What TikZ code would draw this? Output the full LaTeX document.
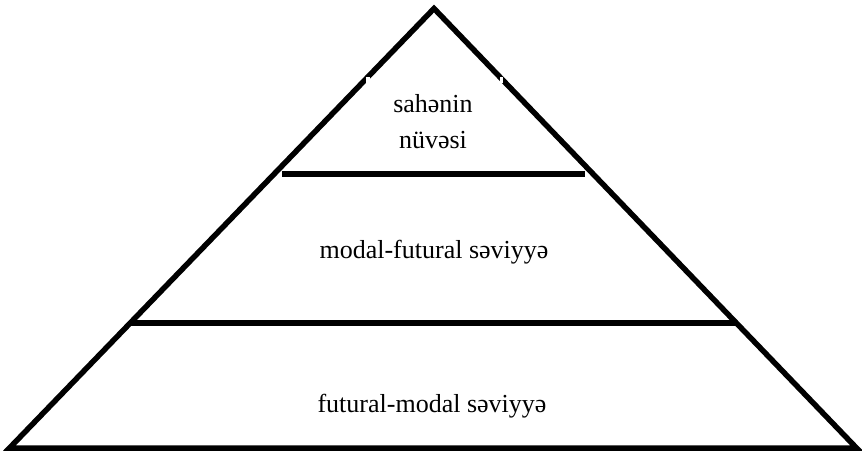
\documentclass[tikz,border=0pt]{standalone}
\usepackage{fontspec}
\setmainfont{Liberation Serif}
\begin{document}
\begin{tikzpicture}[x=1pt,y=-1pt,
  edge/.style={line width=5.5pt,line join=miter,line cap=butt},
  lbl/.style={font=\fontsize{26}{36}\selectfont,align=center,inner sep=0pt,anchor=base}]
\useasboundingbox (0,0) rectangle (862,455);
\coordinate (apex) at (434,8.5);
\coordinate (bl) at (9.5,448);
\coordinate (br) at (856.5,448);
\draw[edge] (bl) -- (apex) -- (br) -- cycle;
\coordinate (l1a) at (282,174);
\coordinate (l1b) at (585,174);
\coordinate (l2a) at (131,323);
\coordinate (l2b) at (736,323);
\draw[edge] (l1a) -- (l1b);
\draw[edge] (l2a) -- (l2b);
\fill[white] (366,77) rectangle (369.5,83);
\fill[white] (499.5,77) rectangle (503,83);
\node[lbl] (top1) at (433,112) {sahənin};
\node[lbl] (top2) at (433,148) {nüvəsi};
\node[lbl] (mid) at (434,258) {modal-futural səviyyə};
\node[lbl] (bot) at (432,412) {futural-modal səviyyə};
\end{tikzpicture}
\end{document}
